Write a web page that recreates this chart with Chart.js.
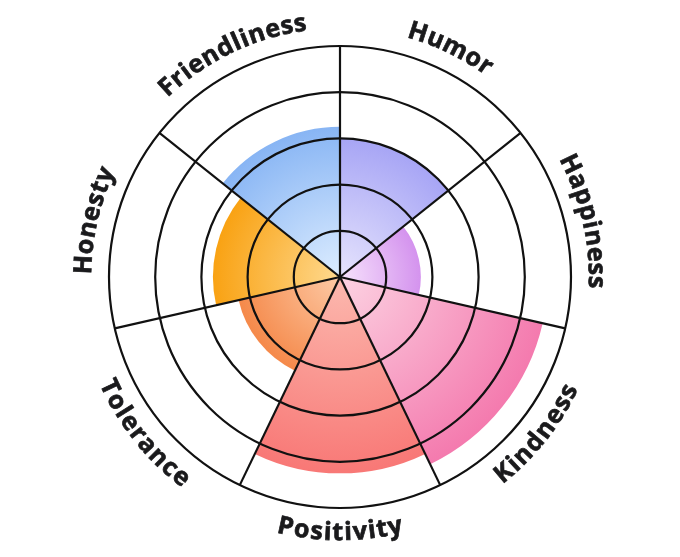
<!DOCTYPE html>
<html>
<head>
<meta charset="utf-8">
<script src="https://cdn.jsdelivr.net/npm/chart.js@4"></script>
<style>
  html, body { margin: 0; padding: 0; background: #fff; }
  #wrap { width: 680px; height: 557px; }
</style>
</head>
<body>
<div id="wrap"><canvas id="chartPolar"></canvas></div>
<script>
// traits, clockwise from the top
const labels = ['Humor', 'Happiness', 'Kindness', 'Positivity', 'Tolerance', 'Honesty', 'Friendliness'];
const scores = [6, 3.5, 9, 8.5, 4.5, 5.5, 6.5];
const innerColors = ['#e6e4fd', '#f7e3fc', '#fcd2e2', '#fcb9af', '#fdcaa6', '#fed98f', '#ddedff'];
const outerColors = ['#a7a5f5', '#d493ee', '#f47aae', '#f87876', '#f5894a', '#f9a213', '#88b5f4'];

const ctx = document.getElementById('chartPolar').getContext('2d');

// radial gradient from the centre out to the end of each wedge
const fillFor = (context) => {
    const chart = context.chart;
    const scale = chart.scales.r;
    const i = context.dataIndex;
    if (!scale || !isFinite(scale.xCenter) || !scale.drawingArea) return outerColors[i];
    const r = Math.max(scale.getDistanceFromCenterForValue(scores[i]), 1);
    const g = chart.ctx.createRadialGradient(scale.xCenter, scale.yCenter, 0, scale.xCenter, scale.yCenter, r);
    g.addColorStop(0, innerColors[i]);
    g.addColorStop(1, outerColors[i]);
    return g;
};

// labels bent along the outer ring
const letterGap = 1;
const curvedLabels = {
    id: 'curvedLabels',
    afterDraw(chart) {
        const scale = chart.scales.r;
        const c = chart.ctx;
        const radius = scale.getDistanceFromCenterForValue(scale.max) + 25;
        const half = Math.PI / labels.length;
        c.save();
        c.font = 'bold 25px "Open Sans"';
        c.fillStyle = '#1a1a1c';
        c.strokeStyle = '#1a1a1c';
        c.lineWidth = 0.7;
        c.textAlign = 'center';
        c.textBaseline = 'middle';
        labels.forEach((text, i) => {
            const mid = scale.getIndexAngle(i) + half;
            const chars = text.split('');
            const widths = chars.map(ch => c.measureText(ch).width);
            const total = widths.reduce((a, b) => a + b, 0) + letterGap * (chars.length - 1);
            const upper = Math.cos(mid) >= 0;
            let run = 0;
            chars.forEach((ch, k) => {
                const off = (run + widths[k] / 2 - total / 2) / radius;
                run += widths[k] + letterGap;
                c.save();
                c.translate(scale.xCenter, scale.yCenter);
                const y = upper ? -radius : radius;
                c.rotate(upper ? mid + off : mid - off - Math.PI);
                c.fillText(ch, 0, y);
                c.strokeText(ch, 0, y);
                c.restore();
            });
        });
        c.restore();
    }
};

new Chart(ctx, {
    type: 'polarArea',
    data: {
        labels: labels,
        datasets: [{
            data: scores,
            backgroundColor: fillFor,
            borderWidth: 0
        }]
    },
    options: {
        responsive: true,
        maintainAspectRatio: false,
        animation: false,
        layout: { padding: { top: 46, bottom: 48, left: 0, right: 0 } },
        plugins: {
            legend: { display: false },
            tooltip: { enabled: false }
        },
        scales: {
            r: {
                min: 0,
                max: 10,
                z: 1,
                ticks: { display: false, stepSize: 2, z: 1 },
                grid: { color: '#111111', lineWidth: 2.2, z: 1 },
                border: { z: 1 },
                angleLines: { display: true, color: '#111111', lineWidth: 2.2 },
                pointLabels: { display: false }
            }
        }
    },
    plugins: [curvedLabels]
});
</script>
</body>
</html>
